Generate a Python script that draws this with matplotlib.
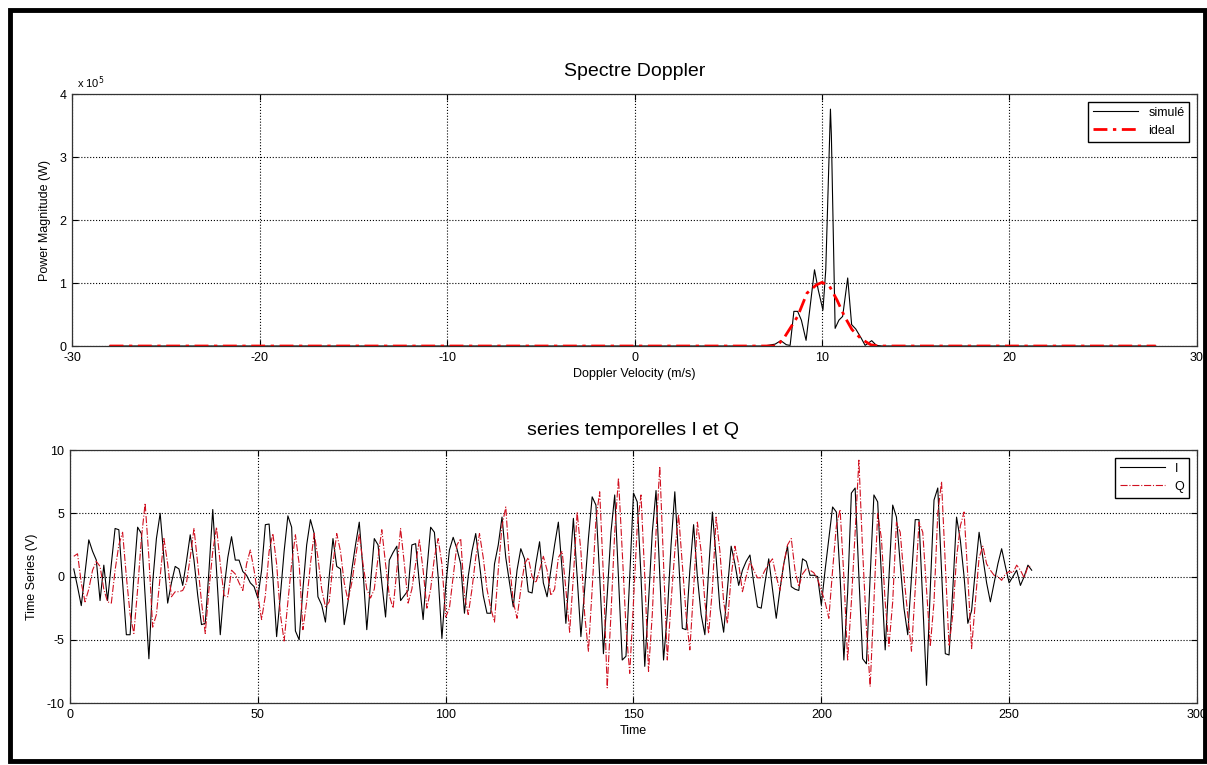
import numpy as np
import matplotlib
matplotlib.use('Agg')
import matplotlib.pyplot as plt
from matplotlib.ticker import FuncFormatter, MultipleLocator
from matplotlib.patches import Rectangle

# Spectre Doppler : puissance (unite 1e5 W)
vel_sim = [-28.0, 6.9, 7.5, 7.8, 8.1, 8.3, 8.5, 8.7, 8.9, 9.15, 9.6, 9.8, 10.05,
           10.2, 10.45, 10.5, 10.7, 10.9, 11.1, 11.37, 11.58, 11.8, 12.1, 12.3,
           12.65, 12.9, 13.2, 27.8]
pow_sim = [0.0, 0.0, 0.03, 0.085, 0.02, 0.01, 0.55, 0.55, 0.41, 0.09, 1.21, 0.89, 0.57,
           1.21, 3.76, 3.34, 0.28, 0.41, 0.47, 1.08, 0.34, 0.27, 0.12, 0.01,
           0.085, 0.01, 0.0, 0.0]
vel_ideal = [-28.0, 7.0, 7.6, 8.0, 8.7, 9.2, 9.7, 10.0, 10.4, 10.8, 11.2, 11.6, 12.1,
             12.6, 13.0, 27.8]
pow_ideal = [0.0, 0.0, 0.0, 0.14, 0.47, 0.84, 0.97, 1.01, 0.95, 0.73, 0.47, 0.26, 0.11,
             0.02, 0.0, 0.0]

# series temporelles I et Q (V), echantillons 1..256
I_vals = [
    0.6, -0.8, -2.3, 0.3, 2.9, 2.0, 1.3, -1.9, 0.9, -1.9,
    1.0, 3.8, 3.7, -0.5, -4.6, -4.6, 0.0, 3.9, 3.4, -1.5,
    -6.5, -0.5, 3.0, 5.0, 1.5, -2.1, -0.5, 0.8, 0.6, -0.7,
    1.2, 3.3, 1.3, -1.5, -3.8, -3.7, 0.5, 5.3, 0.5, -4.6,
    -1.0, 1.5, 3.15, 1.3, 1.3, 0.4, 0.1, -0.5, -0.8, -1.7,
    0.5, 4.1, 4.15, 0.0, -4.75, -1.5, 2.0, 4.8, 3.9, -4.3,
    -5.0, -1.0, 2.5, 4.5, 3.4, -1.6, -2.25, -3.6, 0.0, 3.0,
    0.8, 0.6, -3.8, -2.0, 0.5, 2.5, 4.3, 0.5, -4.2, -0.5,
    3.0, 2.5, -0.5, -3.2, 1.3, 1.9, 2.4, -1.9, -1.5, -1.1,
    2.5, 2.6, -0.5, -3.4, 0.5, 3.9, 3.5, 0.0, -4.9, -0.8,
    2.1, 3.1, 2.2, 1.0, -2.9, 0.0, 2.0, 3.4, 1.0, -1.5,
    -2.9, -2.9, 1.0, 2.5, 4.7, 1.5, -0.5, -2.4, 0.5, 2.2,
    1.4, -1.2, -1.3, 1.0, 2.75, -0.5, -1.6, 0.5, 2.5, 4.3,
    0.5, -3.7, 0.5, 4.6, 0.0, -4.75, -1.0, 3.0, 6.3, 5.65,
    0.0, -6.1, -1.5, 3.5, 6.45, 0.0, -6.6, -6.3, 0.0, 6.6,
    5.9, 0.0, -7.1, -2.0, 3.5, 6.8, 0.0, -6.6, -3.0, 2.5,
    6.7, 1.5, -4.1, -4.2, 0.5, 4.1, 0.0, -3.0, -4.6, 0.5,
    5.1, 1.5, -2.5, -4.4, -1.0, 2.4, 1.0, -0.7, 0.5, 1.2,
    1.7, -0.5, -2.4, -2.5, -0.5, 1.4, -1.0, -3.3, -1.0, 1.0,
    2.4, -0.8, -1.0, -1.1, 1.4, 1.2, 0.1, 0.1, 0.0, -2.25,
    0.5, 3.0, 5.5, 5.1, 0.0, -6.6, -1.3, 6.6, 7.0, 0.0,
    -6.5, -6.9, 0.0, 6.45, 5.9, 0.0, -5.8, 0.0, 5.65, 4.7,
    1.0, -2.5, -4.6, 0.0, 4.5, 4.5, -2.0, -8.6, -1.0, 6.05,
    7.0, 0.5, -6.1, -6.2, -1.0, 4.7, 2.9, 0.0, -3.7, -2.7,
    0.5, 3.5, 1.5, -0.5, -2.0, -0.5, 1.0, 2.2, 0.8, -0.5,
    0.0, 0.5, -0.7, 0.0, 0.9, 0.5,
]
Q_vals = [
    1.6, 1.8, -0.5, -2.0, -1.0, 0.5, 1.2, 0.8, -1.0, -2.0,
    -2.1, 0.5, 2.5, 3.5, 0.0, -3.0, -4.5, -1.0, 3.0, 5.8,
    1.5, -4.0, -3.0, 0.0, 3.0, 1.0, -1.6, -1.2, -1.2, -1.1,
    -0.5, 1.5, 3.8, 1.0, -2.0, -4.5, -1.0, 2.0, 3.9, 1.0,
    -1.5, -1.6, 0.5, 0.2, -0.5, -1.1, 1.0, 2.1, 0.5, -1.5,
    -3.4, -1.5, 2.0, 3.4, 1.0, -3.0, -5.1, -2.0, 1.0, 3.3,
    1.0, -4.2, -2.0, 1.0, 3.4, 1.5, -1.0, -2.4, -2.0, 1.0,
    3.4, 2.0, -0.5, -1.9, -0.5, 1.5, 3.4, 1.0, -1.0, -1.7,
    -1.0, 1.5, 3.7, 1.0, -1.5, -2.5, 0.5, 3.8, 1.0, -2.1,
    -1.0, 1.0, 2.9, 0.5, -2.5, -1.0, 1.5, 3.0, 1.0, -3.2,
    -2.5, 0.0, 2.5, 3.0, -1.5, -3.0, -1.0, 1.5, 3.4, 1.5,
    -1.0, -2.5, -3.6, 0.5, 4.0, 5.5, 1.0, -2.0, -3.3, -1.0,
    1.0, 1.5, 0.0, -0.5, 0.5, 1.6, 0.5, -1.5, -1.0, 1.5,
    2.0, -1.0, -4.4, 0.0, 5.1, 2.0, -3.0, -5.9, -1.0, 4.5,
    6.7, 0.0, -8.8, -3.0, 3.5, 7.8, 2.0, -4.0, -7.65, -2.0,
    4.0, 6.45, 0.0, -7.5, -3.0, 3.5, 8.7, 1.0, -6.6, -2.0,
    2.0, 4.9, 1.0, -3.0, -5.8, -1.0, 4.3, 2.0, -2.0, -4.5,
    -1.0, 4.7, 2.0, -2.0, -3.7, 0.0, 2.4, 1.0, -1.2, 0.0,
    1.2, 0.5, -0.1, -0.1, 0.5, 1.0, 1.4, 0.0, -1.1, 1.0,
    2.5, 3.0, 0.5, -0.8, 0.2, 0.6, 0.5, 0.3, -0.2, -1.1,
    -2.0, -3.3, 0.5, 4.0, 5.3, 0.0, -6.6, -2.0, 3.5, 9.2,
    2.0, -4.0, -8.7, -2.0, 5.0, 3.0, -2.0, -5.5, -2.0, 4.3,
    3.5, 0.0, -3.0, -5.9, -1.0, 4.3, 3.5, -1.0, -5.5, -2.0,
    5.0, 7.5, 1.0, -5.5, -3.0, 1.5, 4.0, 5.1, 0.0, -5.7,
    -2.0, 1.5, 2.4, 1.0, 0.5, 0.1, 0.0, -0.3, 0.2, 0.4,
    0.3, 0.9, 0.5, -0.1, 0.8, 0.8,
]

plt.rcParams['font.family'] = ['Liberation Sans Narrow', 'Liberation Sans', 'DejaVu Sans']
plt.rcParams['font.size'] = 9
plt.rcParams['axes.unicode_minus'] = False


def style_axes(ax):
    # look "matlab": ticks dedans sur les 4 cotes, grille pointillee
    ax.tick_params(direction='in', top=True, right=True, length=4, width=0.8,
                   labelsize=9, pad=4)
    ax.grid(True, linestyle=':', color='black', linewidth=0.8)
    for sp in ax.spines.values():
        sp.set_linewidth(0.9)
        sp.set_color('#333333')


fig = plt.figure(figsize=(12.07, 7.65), dpi=100)

# 1. Spectre Doppler
ax1 = fig.add_axes([0.0597, 0.5477, 0.932, 0.3294])
p_sim = np.array(pow_sim) * 1e5
p_ideal = np.array(pow_ideal) * 1e5
ax1.plot(vel_sim, p_sim, color='black', linewidth=0.8, label='simulé')
ax1.plot(vel_ideal, p_ideal, color='red', linestyle='-.', linewidth=2.0,
         dashes=(5, 2, 1.2, 2), label='ideal')
ax1.set_xlim(-30, 30)
ax1.set_ylim(0, 4e5)
ax1.xaxis.set_major_locator(MultipleLocator(10))
ax1.yaxis.set_major_locator(MultipleLocator(1e5))
ax1.yaxis.set_major_formatter(FuncFormatter(lambda v, p: f'{v / 1e5:g}'))
ax1.text(0.004, 1.012, r'x 10$^5$', transform=ax1.transAxes, fontsize=8,
         ha='left', va='bottom')
ax1.set_xlabel('Doppler Velocity (m/s)', fontsize=9, labelpad=3)
ax1.set_ylabel('Power Magnitude (W)', fontsize=9, labelpad=6)
ax1.set_title('Spectre Doppler', fontsize=14, pad=13, family=['Liberation Sans', 'DejaVu Sans'])
style_axes(ax1)
leg1 = ax1.legend(loc='upper right', fancybox=False, framealpha=1, edgecolor='black',
                  handlelength=3.6, borderaxespad=0.6, fontsize=9)
leg1.get_frame().set_linewidth(1.0)

# 2. Series temporelles I et Q
ax2 = fig.add_axes([0.0580, 0.0810, 0.9337, 0.3307])
t = np.arange(1, len(I_vals) + 1)
ax2.plot(t, I_vals, color='black', linewidth=0.8, label='I')
ax2.plot(t, Q_vals, color='#d01020', linestyle='-.', linewidth=0.8, label='Q')
ax2.set_xlim(0, 300)
ax2.set_ylim(-10, 10)
ax2.xaxis.set_major_locator(MultipleLocator(50))
ax2.yaxis.set_major_locator(MultipleLocator(5))
ax2.set_xlabel('Time', fontsize=9, labelpad=3)
ax2.set_ylabel('Time Series (V)', fontsize=9, labelpad=6)
ax2.set_title('series temporelles I et Q', fontsize=14, pad=11,
              family=['Liberation Sans', 'DejaVu Sans'])
style_axes(ax2)
leg2 = ax2.legend(loc='upper right', fancybox=False, framealpha=1, edgecolor='black',
                  handlelength=3.6, borderaxespad=0.6, fontsize=9)
leg2.get_frame().set_linewidth(1.0)

# cadre noir epais autour de la figure (capture d'ecran)
fig.add_artist(Rectangle((10 / 1207, 4 / 765), 1195 / 1207, 751 / 765,
                         transform=fig.transFigure, fill=False, edgecolor='black',
                         linewidth=3.5))

fig.savefig('out.png', dpi=100)
plt.close(fig)
